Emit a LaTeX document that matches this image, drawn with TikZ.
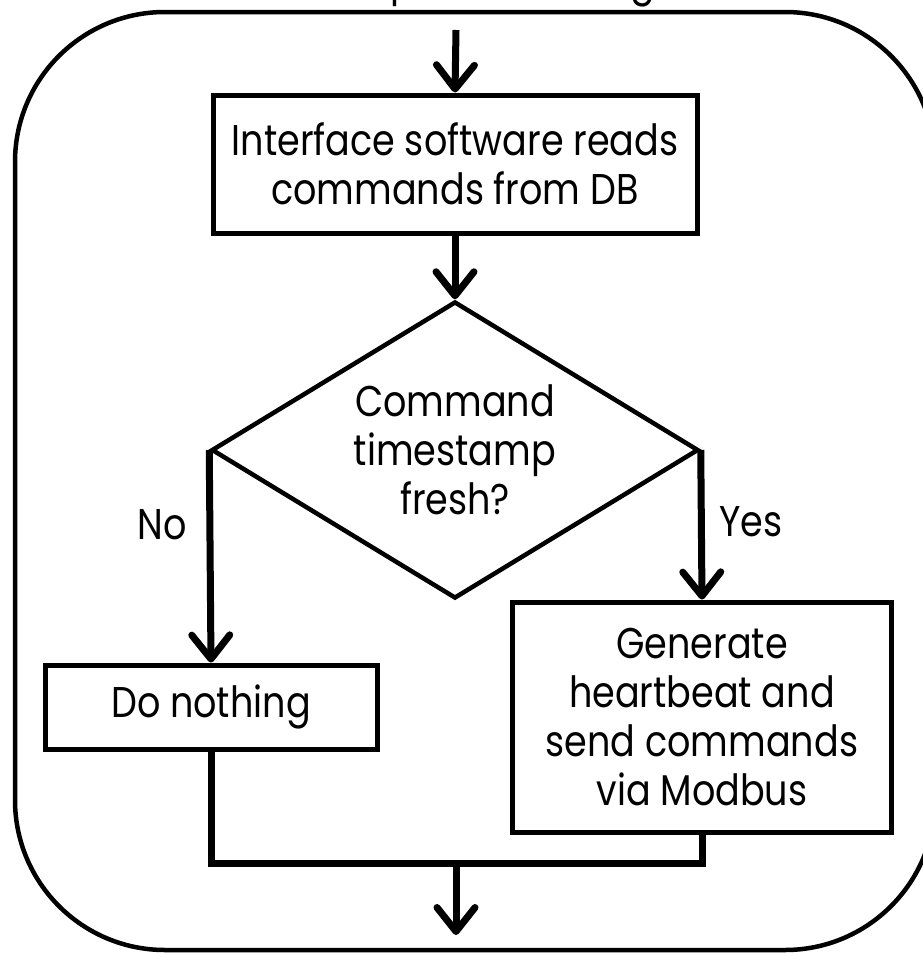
\documentclass[tikz,border=0pt]{standalone}
\usepackage{fontspec}
\setmainfont{Poppins}[FakeStretch=0.85]
\usetikzlibrary{arrows.meta,shapes.geometric}
\begin{document}
\begin{tikzpicture}[x=1pt,y=-1pt,
  txt/.style={font=\fontsize{43}{49}\selectfont, align=center},
  procbox/.style={draw, line width=5pt, inner sep=0pt, txt},
  decision/.style={diamond, draw, line width=4.5pt, inner sep=0pt, aspect=1.64, txt},
  flow/.style={line width=7pt, -{Straight Barb[length=24pt,width=38pt,round]}},
  joinline/.style={line width=7pt},
  frame/.style={line width=4.5pt, rounded corners=150pt}]
\useasboundingbox (0,0) rectangle (922,953);

% outer frame
\draw[frame] (15,12) rectangle (935,950);

% caption above the frame (only its descenders fall inside the page)
\node[txt, anchor=base] (capp) at (403,-5) {p};
\node[txt, anchor=base] (capg) at (643,-5) {g};

% flow steps
\node[procbox, minimum width=484pt, minimum height=138pt] (read) at (455,164)
  {Interface software reads\\commands from DB};
\node[decision, minimum width=487pt, minimum height=297pt] (fresh) at (455,450)
  {Command\\timestamp\\fresh?};
\node[procbox, minimum width=332pt, minimum height=84pt] (idle) at (211,707)
  {Do nothing};
\node[procbox, minimum width=379pt, minimum height=230pt] (send) at (702,717)
  {Generate\\heartbeat and\\send commands\\via Modbus};

% branch labels
\node[txt] (no) at (162,525) {No};
\node[txt] (yes) at (751,522) {Yes};

% connector end points
\coordinate (entry) at (456,30);
\coordinate (merge) at (456,863);
\coordinate (exit) at (456,935);

% connectors
\draw[flow] (entry) -- (read.north);
\draw[flow] (read.south) -- (fresh.north);
\draw[flow] (fresh.west) -- (idle.north);
\draw[flow] (fresh.east) -- (send.north);
\draw[joinline] (idle.south) |- (merge) -| (send.south);
\draw[flow] (merge) -- (exit);
\end{tikzpicture}
\end{document}
